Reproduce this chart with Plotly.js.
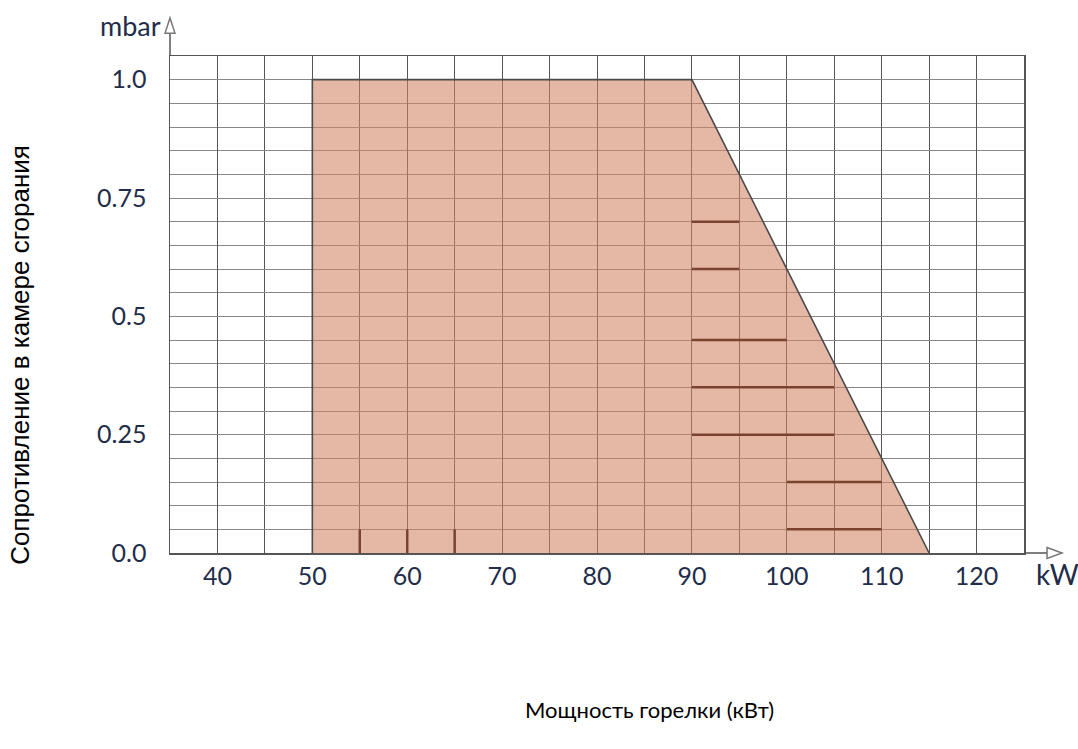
<!DOCTYPE html>
<html>
<head>
<meta charset="utf-8">
<script src="https://cdn.plot.ly/plotly-3.0.1.min.js"></script>
<style>html,body{margin:0;padding:0;background:#fff;}#chart{width:1078px;height:749px;}</style>
</head>
<body>
<div id="chart"></div>
<script>
// Working field (burner output kW vs combustion chamber resistance mbar)
const powerKW = [50, 50, 90, 115];
const pressureMbar = [0, 1.0, 1.0, 0];

// Dark horizontal marks inside the field
const markY = [0.7, 0.6, 0.45, 0.35, 0.25, 0.15, 0.05];
const markX0 = [90, 90, 90, 90, 90, 100, 100];
const markX1 = [95, 95, 100, 105, 105, 110, 110];

// Dark vertical marks at the bottom
const vMarkX = [55, 60, 65];
const vMarkY0 = [0, 0, 0];
const vMarkY1 = [0.05, 0.05, 0.05];

// Tick labels
const xTickVals = [40, 50, 60, 70, 80, 90, 100, 110, 120];
const xTickText = ['40', '50', '60', '70', '80', '90', '100', '110', '120'];
const yTickVals = [0, 0.25, 0.5, 0.75, 1.0];
const yTickText = ['0.0', '0.25', '0.5', '0.75', '1.0'];

const xTitle = 'Мощность горелки (кВт)';
const yTitle = 'Сопротивление в камере сгорания';

const traces = [];
traces.push({
  x: powerKW, y: pressureMbar, type: 'scatter', mode: 'lines',
  fill: 'toself', fillcolor: 'rgba(208,132,100,0.58)',
  line: {color: '#4a4a4a', width: 1.6}, hoverinfo: 'skip', showlegend: false
});
// Segments
const sx = [], sy = [];
for (let i = 0; i < markY.length; i++) {
  sx.push(markX0[i], markX1[i], null);
  sy.push(markY[i], markY[i], null);
}
for (let i = 0; i < vMarkX.length; i++) {
  sx.push(vMarkX[i], vMarkX[i], null);
  sy.push(vMarkY0[i], vMarkY1[i], null);
}
traces.push({
  x: sx, y: sy, type: 'scatter', mode: 'lines',
  line: {color: '#7a4330', width: 2.5}, hoverinfo: 'skip', showlegend: false
});

const tickFont = {family: 'Lato, "Open Sans", sans-serif', size: 25, color: '#1f2d4a'};

const layout = {
  width: 1078, height: 749,
  margin: {l: 170, r: 54, t: 56, b: 196},
  paper_bgcolor: '#fff', plot_bgcolor: '#fff',
  showlegend: false,
  xaxis: {
    range: [35, 125], tickvals: xTickVals, ticktext: xTickText,
    showgrid: true, gridcolor: '#555', gridwidth: 1,
    minor: {dtick: 5, tick0: 0, showgrid: true, gridcolor: '#555', gridwidth: 1},
    showline: true, mirror: true, linecolor: '#555', linewidth: 1.5,
    ticks: '', tickfont: tickFont, ticklabelstandoff: 0, zeroline: false, fixedrange: true
  },
  yaxis: {
    range: [0, 1.05], tickvals: yTickVals, ticktext: yTickText,
    showgrid: true, gridcolor: '#888', gridwidth: 1,
    minor: {dtick: 0.05, tick0: 0, showgrid: true, gridcolor: '#888', gridwidth: 1},
    showline: true, mirror: true, linecolor: '#555', linewidth: 1.5,
    ticks: '', tickfont: tickFont, ticklabelstandoff: 17, zeroline: false, fixedrange: true
  },
  shapes: [
    // x-axis extension + arrow
    {type: 'line', xref: 'paper', yref: 'paper', x0: 1, x1: 1.027, y0: 0, y1: 0, line: {color: '#555', width: 1.5}},
    {type: 'path', xref: 'paper', yref: 'paper', path: 'M 1.027 0.011 L 1.0445 0 L 1.027 -0.011 Z', line: {color: '#777', width: 1.5}, fillcolor: '#fff'},
    // y-axis extension + arrow
    {type: 'line', xref: 'paper', yref: 'paper', x0: 0, x1: 0, y0: 1, y1: 1.046, line: {color: '#555', width: 1.5}},
    {type: 'path', xref: 'paper', yref: 'paper', path: 'M -0.0058 1.046 L 0 1.0765 L 0.0058 1.046 Z', line: {color: '#777', width: 1.5}, fillcolor: '#fff'}
  ],
  annotations: [
    {text: 'mbar', xref: 'paper', yref: 'paper', x: -0.008, y: 1.062, xanchor: 'right', yanchor: 'middle', showarrow: false,
     font: {family: 'Lato, sans-serif', size: 27, color: '#1f2d4a'}},
    {text: 'kW', xref: 'paper', yref: 'paper', x: 1.039, y: -0.042, xanchor: 'center', yanchor: 'middle', showarrow: false,
     font: {family: 'Lato, sans-serif', size: 28, color: '#1f2d4a'}},
    {text: yTitle, xref: 'paper', yref: 'paper', x: -0.175, y: 0.398, textangle: -90, xanchor: 'center', yanchor: 'middle', showarrow: false,
     font: {family: '"Liberation Sans", Arial, sans-serif', size: 26, color: '#000'}},
    {text: xTitle, xref: 'paper', yref: 'paper', x: 0.562, y: -0.314, xanchor: 'center', yanchor: 'middle', showarrow: false,
     font: {family: 'Lato, sans-serif', size: 22, color: '#000'}}
  ]
};

Plotly.newPlot('chart', traces, layout, {displayModeBar: false, staticPlot: true});
</script>
</body>
</html>
